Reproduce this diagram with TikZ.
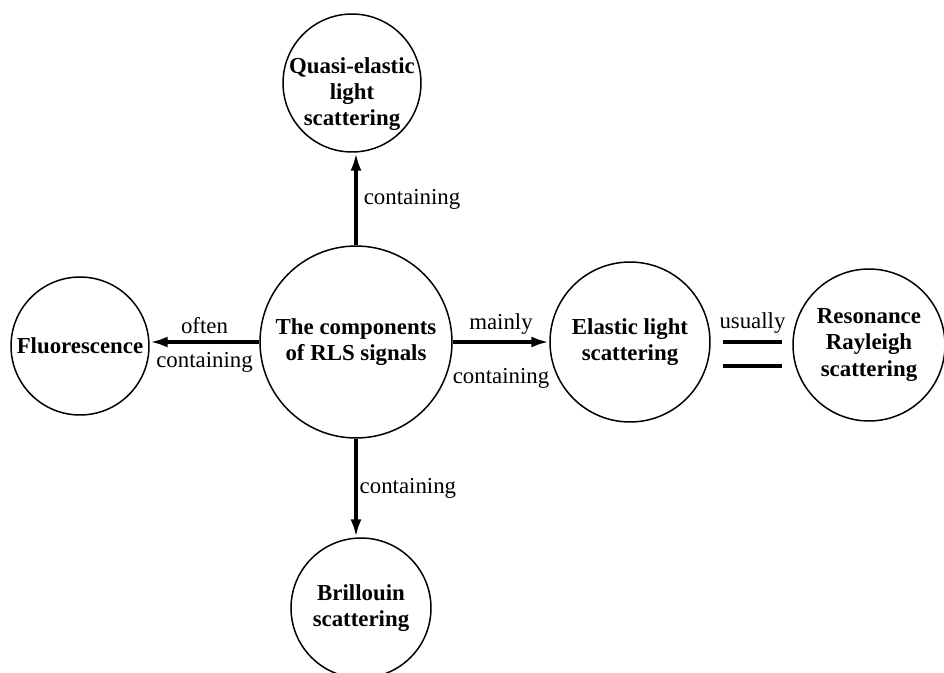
\documentclass[tikz,border=0pt]{standalone}
\usepackage{fontspec}
\setmainfont{Liberation Serif}
\usepackage{tikz}
\usetikzlibrary{
  arrows.meta,
  positioning,
  calc,
}
\tikzset{
  bubble/.style={
    circle, draw=black, line width=0.85pt, inner sep=0pt, minimum size=#1,
  },
  bubtext/.style={
    font=\bfseries\fontsize{13}{15}\selectfont, align=center,
  },
  tag/.style={
    font=\fontsize{13}{15}\selectfont,
  },
  arrowLink/.style={
    -{Latex[length=3.6mm,width=2.2mm]}, line width=2.2pt, draw=black,
  },
  eqBar/.style={
    line width=2.8pt, draw=black,
  },
}

\begin{document}
\begin{tikzpicture}[x=0.02cm, y=-0.02cm]
\useasboundingbox (0,0) rectangle (944,673);
\clip (0,0) rectangle (944,673);

% circles
\node[bubble=3.84cm, label={[bubtext]center:The components\\of RLS signals}] (rls) at (356,342) {};
\node[bubble=2.76cm, label={[bubtext, yshift=-2.2mm]center:Quasi-elastic\\light\\scattering}] (quasi) at (352,83) {};
\node[bubble=2.76cm, label={[bubtext]center:Fluorescence}] (fluo) at (80,346) {};
\node[bubble=3.2cm, label={[bubtext]center:Elastic light\\scattering}] (elastic) at (630,342) {};
\node[bubble=3.04cm, label={[bubtext]center:Resonance\\Rayleigh\\scattering}] (reso) at (869,345) {};
\node[bubble=2.8cm, label={[bubtext]center:Brillouin\\scattering}] (brill) at (361,608) {};

% links
\draw[arrowLink] (rls.north) -- (rls.north |- quasi.south)
  node[tag, midway, right] (tagUp) {containing};
\draw[arrowLink] (rls.south) -- (rls.south |- brill.north)
  node[tag, midway, right, inner sep=1pt] (tagDown) {containing};
\draw[arrowLink] (rls.west) -- (rls.west -| fluo.east)
  node[tag, midway, above] (tagOften) {often}
  node[tag, midway, below=0.6mm] (tagLeft) {containing};
\draw[arrowLink] (rls.east) -- (elastic.west)
  node[tag, midway, above] (tagMainly) {mainly}
  node[tag, midway, below=3.8mm] (tagRight) {containing};

% equals sign
\draw[eqBar] ($(elastic.east)+(12,0)$) -- ($(elastic.east -| reso.west)+(-10,0)$)
  node[tag, midway, above] (tagUsually) {usually};
\draw[eqBar] ($(elastic.east)+(12,24)$) -- ($(elastic.east -| reso.west)+(-10,24)$);

\end{tikzpicture}
\end{document}
